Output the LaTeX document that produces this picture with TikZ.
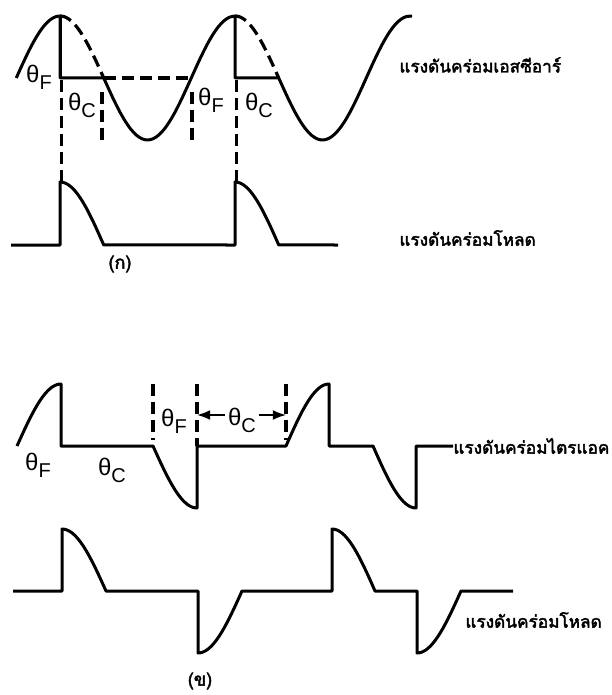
\documentclass[tikz,border=0pt]{standalone}
\usepackage{fontspec}
\setmainfont{Liberation Sans}
\newfontfamily\thaifont[Script=Thai,FakeBold=2.5]{Loma}
\usetikzlibrary{arrows.meta}
\newcommand{\angsub}[1]{θ\raisebox{-0.55ex}{\fontsize{10}{10}\selectfont #1}}

\begin{document}
\begin{tikzpicture}[x=0.5pt,y=-0.5pt,>=Latex, wave/.style={line width=1.5pt, line join=round}, guide/.style={line width=1.6pt, dash pattern=on 6pt off 3pt}, ang/.style={font=\fontsize{12}{13}\selectfont, inner sep=0pt}, thlabel/.style={font=\thaifont\fontsize{8.6}{10}\selectfont, anchor=west, inner sep=0pt}, smp/.style={samples=25, smooth}]
\useasboundingbox (0,0) rectangle (611,695);
% (a) SCR
\draw[wave] plot[smp, domain=16.25:60] (\x,{78-62*cos((\x-60)/175*360)}) -- (60,78) -- (103.75,78)
  -- plot[smp, domain=103.75:235] (\x,{78-62*cos((\x-60)/175*360)}) -- (235,78) -- (278.75,78)
  -- plot[smp, domain=278.75:412] (\x,{78-62*cos((\x-60)/175*360)});
\draw[wave] (60,16) -- (60,78);
\draw[guide] plot[smp, domain=60:103.75] (\x,{78-62*cos((\x-60)/175*360)});
\draw[guide] plot[smp, domain=235:278.75] (\x,{78-62*cos((\x-60)/175*360)});
\draw[guide] (103.75,78) -- (191.25,78);
\draw[guide] (61.5,80) -- (61.5,182);
\draw[guide] (102,92) -- (102,143);
\draw[guide] (192,92) -- (192,143);
\draw[guide] (236.5,80) -- (236.5,182);
\draw[wave] (11,245) -- (60,245) -- (60,182)
  -- plot[smp, domain=60:103.75] (\x,{245-63*cos((\x-60)/175*360)}) -- (235,245) -- (235,182)
  -- plot[smp, domain=235:278.75] (\x,{245-63*cos((\x-235)/175*360)}) -- (338,245);
\node[ang] (fa1) at (39,77) {\angsub{F}};
\node[ang] (ca1) at (82,105) {\angsub{C}};
\node[ang] (fa2) at (211,100) {\angsub{F}};
\node[ang] (ca2) at (259,105) {\angsub{C}};
\node[thlabel] (scr) at (399,65) {แรงดันคร่อมเอสซีอาร์};
\node[thlabel] (loada) at (399,238) {แรงดันคร่อมโหลด};
\node[font=\thaifont\fontsize{9}{10}\selectfont] (capa) at (120,264) {(ก)};
% (b) TRIAC
\draw[wave] plot[smp, domain=17:61] (\x,{446-62*cos((\x-61)/176*360)}) -- (61,446) -- (153,446)
  -- plot[smp, domain=153:197] (\x,{446+62*sin((\x-153)/44*90)}) -- (197,446) -- (286,446)
  -- plot[smp, domain=286:329] (\x,{446-62*sin((\x-286)/43*90)}) -- (329,446) -- (373,446)
  -- plot[smp, domain=373:416] (\x,{446+62*sin((\x-373)/43*90)}) -- (416,446) -- (453,446);
\draw[guide] (153,384) -- (153,440);
\draw[guide] (197,384) -- (197,446);
\draw[guide] (286,384) -- (286,440);
\node[ang] (fb1) at (38,465) {\angsub{F}};
\node[ang] (cb1) at (112,470) {\angsub{C}};
\node[ang] (fb2) at (174,421) {\angsub{F}};
\node[ang] (cb2) at (242,420) {\angsub{C}};
\coordinate (cl) at (197,415);
\coordinate (cr) at (286,415);
\draw[->, line width=0.8pt] (cb2.west |- cl) ++(-3,0) -- (cl);
\draw[->, line width=0.8pt] (cb2.east |- cr) ++(3,0) -- (cr);
\node[thlabel] (triac) at (453,446) {แรงดันคร่อมไตรแอค};
\draw[wave] (13,591) -- (62,591) -- (62,529)
  -- plot[smp, domain=62:106] (\x,{591-62*cos((\x-62)/44*90)}) -- (198,591) -- (198,653)
  -- plot[smp, domain=198:242] (\x,{591+62*cos((\x-198)/44*90)}) -- (332,591) -- (332,529)
  -- plot[smp, domain=332:375] (\x,{591-62*cos((\x-332)/43*90)}) -- (417,591) -- (417,653)
  -- plot[smp, domain=417:461] (\x,{591+62*cos((\x-417)/44*90)}) -- (513,591);
\node[thlabel] (loadb) at (465,620) {แรงดันคร่อมโหลด};
\node[font=\thaifont\fontsize{9}{10}\selectfont] (capb) at (200,681) {(ข)};
\end{tikzpicture}
\end{document}
